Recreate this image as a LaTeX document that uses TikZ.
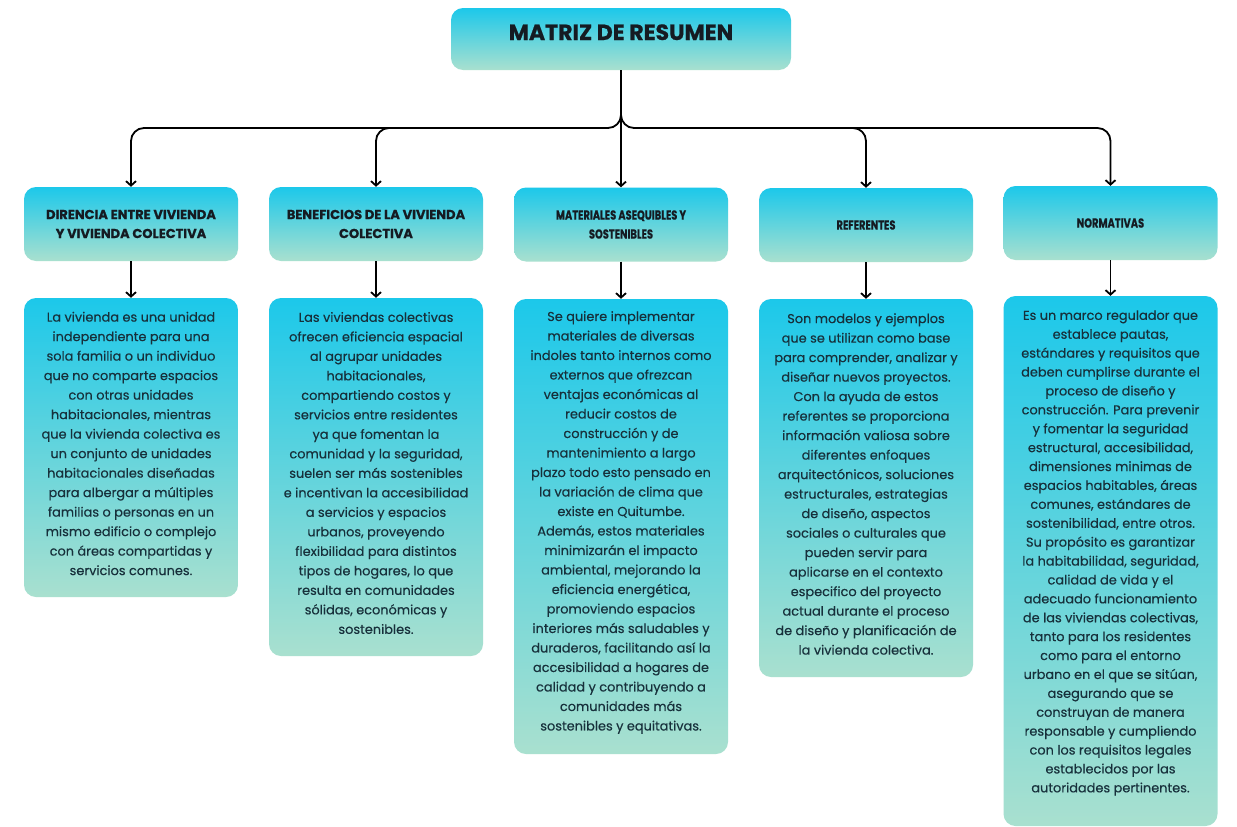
\documentclass[tikz,border=0pt]{standalone}
\usepackage{fontspec}
\setmainfont{Poppins}
\newfontfamily\bodyfont[FakeBold=0.35]{Poppins}
\newfontfamily\heavyfont[FakeBold=0.8]{Poppins}
\newfontfamily\condfont[FakeStretch=0.76,FakeBold=0.6]{Poppins}
\usetikzlibrary{arrows.meta}
\definecolor{topc}{HTML}{1CC8EA}
\definecolor{botc}{HTML}{A9E0CF}
\definecolor{txt}{HTML}{17303B}
\definecolor{hdtxt}{HTML}{151B22}
\tikzset{
  box/.style={rounded corners=12pt, top color=topc, bottom color=botc, draw=none, inner sep=0pt},
  hdbox/.style={box, minimum width=214pt, minimum height=74pt},
  bodybox/.style={box, minimum width=214pt},
  hdtext/.style={align=center, text=hdtxt, font=\heavyfont\bfseries\fontsize{13}{19}\selectfont},
  hdtextc/.style={align=center, text=hdtxt, font=\condfont\bfseries\fontsize{13}{19}\selectfont},
  bodytext/.style={align=center, text=txt, inner sep=0pt, font=\bodyfont\fontsize{12.9}{19.5}\selectfont},
  arr/.style={line width=1.8pt, -{Straight Barb[length=4.5pt,width=10pt]}},
  brace/.style={arr, rounded corners=13pt}
}
\begin{document}
\begin{tikzpicture}[x=1pt,y=-1pt]
\useasboundingbox[fill=white] (0,0) rectangle (1237,827);

% title
\node[box, minimum width=340pt, text height=32pt, text depth=30pt, text=hdtxt,
  font=\heavyfont\bfseries\fontsize{22}{24}\selectfont] (title) at (621,39) {MATRIZ DE RESUMEN};

% headers
\node[hdbox] (h1) at (131,224) {};
\node[hdbox] (h2) at (376,224) {};
\node[hdbox] (h3) at (621,224.5) {};
\node[hdbox] (h4) at (866,225) {};
\node[hdbox] (h5) at (1110.5,223) {};
\node[hdtext] (ht1) at (h1.center) {DIRENCIA ENTRE VIVIENDA\\Y VIVIENDA COLECTIVA};
\node[hdtext] (ht2) at (h2.center) {BENEFICIOS DE LA VIVIENDA\\COLECTIVA};
\node[hdtextc] (ht3) at (h3.center) {MATERIALES ASEQUIBLES Y\\SOSTENIBLES};
\node[hdtextc] (ht4) at (h4.center) {REFERENTES};
\node[hdtextc] (ht5) at (h5.center) {NORMATIVAS};

% bodies
\node[bodybox, minimum height=299pt] (b1) at (131,447.5) {};
\node[bodybox, minimum height=358pt] (b2) at (376,477) {};
\node[bodybox, minimum height=455pt] (b3) at (621,526.5) {};
\node[bodybox, minimum height=378pt] (b4) at (866,488) {};
\node[bodybox, minimum height=530pt] (b5) at (1110.5,561) {};

\node[bodytext] (bt1) at ([yshift=4pt]b1.center) {La vivienda es una unidad\\independiente para una\\sola familia o un individuo\\que no comparte espacios\\con otras unidades\\habitacionales, mientras\\que la vivienda colectiva es\\un conjunto de unidades\\habitacionales diseñadas\\para albergar a múltiples\\familias o personas en un\\mismo edificio o complejo\\con áreas compartidas y\\servicios comunes.};
\node[bodytext] (bt2) at ([yshift=4pt]b2.center) {Las viviendas colectivas\\ofrecen eficiencia espacial\\al agrupar unidades\\habitacionales,\\compartiendo costos y\\servicios entre residentes\\ya que fomentan la\\comunidad y la seguridad,\\suelen ser más sostenibles\\e incentivan la accesibilidad\\a servicios y espacios\\urbanos, proveyendo\\flexibilidad para distintos\\tipos de hogares, lo que\\resulta en comunidades\\sólidas, económicas y\\sostenibles.};
\node[bodytext] (bt3) at ([yshift=4pt]b3.center) {Se quiere implementar\\materiales de diversas\\indoles tanto internos como\\externos que ofrezcan\\ventajas económicas al\\reducir costos de\\construcción y de\\mantenimiento a largo\\plazo todo esto pensado en\\la variación de clima que\\existe en Quitumbe.\\Además, estos materiales\\minimizarán el impacto\\ambiental, mejorando la\\eficiencia energética,\\promoviendo espacios\\interiores más saludables y\\duraderos, facilitando así la\\accesibilidad a hogares de\\calidad y contribuyendo a\\comunidades más\\sostenibles y equitativas.};
\node[bodytext] (bt4) at ([yshift=4pt]b4.center) {Son modelos y ejemplos\\que se utilizan como base\\para comprender, analizar y\\diseñar nuevos proyectos.\\Con la ayuda de estos\\referentes se proporciona\\información valiosa sobre\\diferentes enfoques\\arquitectónicos, soluciones\\estructurales, estrategias\\de diseño, aspectos\\sociales o culturales que\\pueden servir para\\aplicarse en el contexto\\especifico del proyecto\\actual durante el proceso\\de diseño y planificación de\\la vivienda colectiva.};
\node[bodytext, font=\bodyfont\fontsize{12.9}{18.9}\selectfont] (bt5) at ([yshift=8pt]b5.center) {Es un marco regulador que\\establece pautas,\\estándares y requisitos que\\deben cumplirse durante el\\proceso de diseño y\\construcción. Para prevenir\\y fomentar la seguridad\\estructural, accesibilidad,\\dimensiones minimas de\\espacios habitables, áreas\\comunes, estándares de\\sostenibilidad, entre otros.\\Su propósito es garantizar\\la habitabilidad, seguridad,\\calidad de vida y el\\adecuado funcionamiento\\de las viviendas colectivas,\\tanto para los residentes\\como para el entorno\\urbano en el que se sitúan,\\asegurando que se\\construyan de manera\\responsable y cumpliendo\\con los requisitos legales\\establecidos por las\\autoridades pertinentes.};

% connectors
\coordinate (hub) at (621,128);
\coordinate (j2) at (402,128);
\coordinate (j4) at (840,128);
\draw[brace] (title.south) -- (hub) -| (h1.north);
\draw[brace] (title.south) -- (hub) -| (h5.north);
\draw[arr] (title.south) -- (h3.north);
\draw[brace] (j2) -| (h2.north);
\draw[brace] (j4) -| (h4.north);

\draw[arr] (h1.south) -- (b1.north);
\draw[arr] (h2.south) -- (b2.north);
\draw[arr] (h3.south) -- (b3.north);
\draw[arr] (h4.south) -- (b4.north);
\draw[arr] (h5.south) -- (b5.north);
\end{tikzpicture}
\end{document}
